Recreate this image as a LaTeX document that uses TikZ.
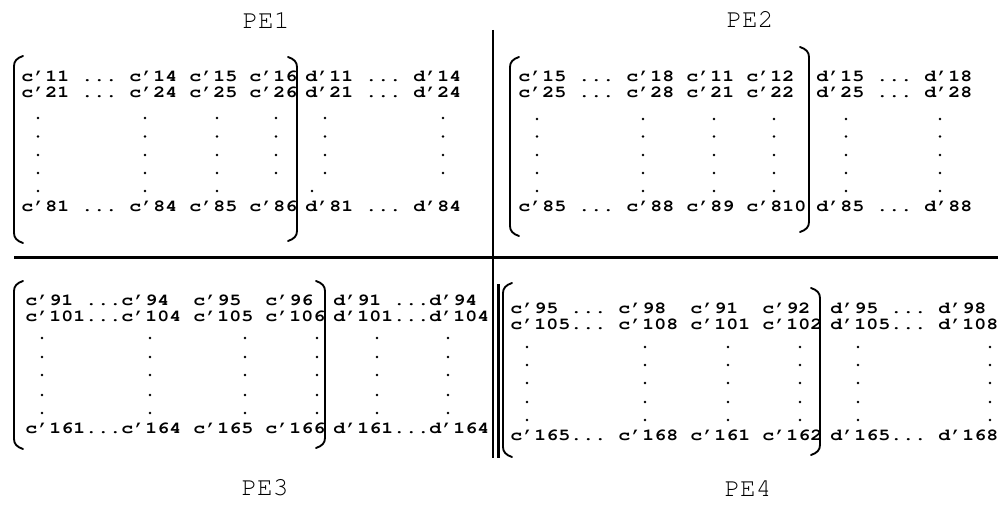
\documentclass[tikz,border=0pt]{standalone}
\usepackage[T1]{fontenc}
\usepackage{courier}
\usepackage{graphicx}
% one matrix row, set a little wide as in a typewritten table
\newcommand\mrow[1]{\scalebox{1.2}[1]{#1}}
\begin{document}
\begin{tikzpicture}[x=0.75pt,y=-0.75pt,
  entry/.style={anchor=base west, inner sep=0pt,
    font=\frenchspacing\fontsize{12.5}{13}\fontfamily{pcr}\fontseries{b}\selectfont},
  pelabel/.style={inner sep=0pt,
    font=\fontsize{19.5}{20}\fontfamily{pcr}\selectfont},
  rule/.style={line width=1.6pt},
  brack/.style={line width=1.4pt, line cap=round, line join=round}]
\useasboundingbox (0,0) rectangle (1000,510);

% left and right bracket helpers: #1 = x, #2 = top, #3 = bottom
\newcommand\lbrk[3]{\draw[brack] ({#1+9},#2) .. controls ({#1+3},{#2+2}) and (#1,{#2+5}) .. (#1,{#2+10})
  -- (#1,{#3-10}) .. controls (#1,{#3-5}) and ({#1+3},{#3-2}) .. ({#1+9},#3);}
\newcommand\rbrk[3]{\draw[brack] ({#1-9},#2) .. controls ({#1-3},{#2+2}) and (#1,{#2+5}) .. (#1,{#2+10})
  -- (#1,{#3-10}) .. controls (#1,{#3-5}) and ({#1-3},{#3-2}) .. ({#1-9},#3);}
\newcommand\vdot[2]{\fill (#1,#2) circle (1.05pt);}

% dividing rules
\draw[rule] (14,257.5) -- (998,257.5);
\draw[rule] (493,30) -- (493,458);
\draw[rule] (498.5,284) -- (498.5,458);

% processor labels
\node[pelabel] (pe1) at (266,20) {PE1};
\node[pelabel] (pe2) at (750,19) {PE2};
\node[pelabel] (pe3) at (265,487) {PE3};
\node[pelabel] (pe4) at (748,488) {PE4};

% ---- PE1 ----
\lbrk{14}{56}{243}
\rbrk{297}{57}{241}
\node[entry] (a1) at (21,81.5) {\mrow{c'11 ... c'14 c'15 c'16}};
\node[entry] (a2) at (21,97.5) {\mrow{c'21 ... c'24 c'25 c'26}};
\node[entry] (a3) at (21,211)  {\mrow{c'81 ... c'84 c'85 c'86}};
\node[entry] (ad1) at (305,81.5) {\mrow{d'11 ... d'14}};
\node[entry] (ad2) at (305,97.5) {\mrow{d'21 ... d'24}};
\node[entry] (ad3) at (305,211)  {\mrow{d'81 ... d'84}};
\foreach \y in {118,136.5,155,173}
  \foreach \x in {38,145,217,276,325,443} {\vdot{\x}{\y}}
\foreach \x in {38,145,217,312} {\vdot{\x}{191}}

% ---- PE2 ----
\lbrk{510}{57}{236}
\rbrk{809}{47}{232}
\node[entry] (b1) at (518,81.5) {\mrow{c'15 ... c'18 c'11 c'12}};
\node[entry] (b2) at (518,97.5) {\mrow{c'25 ... c'28 c'21 c'22}};
\node[entry] (b3) at (518,211)  {\mrow{c'85 ... c'88 c'89 c'810}};
\node[entry] (bd1) at (816,81.5) {\mrow{d'15 ... d'18}};
\node[entry] (bd2) at (816,97.5) {\mrow{d'25 ... d'28}};
\node[entry] (bd3) at (816,211)  {\mrow{d'85 ... d'88}};
\foreach \y in {119,136.5,155,173,191}
  \foreach \x in {537,643,714,774,846,940} {\vdot{\x}{\y}}

% ---- PE3 ----
\lbrk{14}{281}{449}
\rbrk{325}{281}{448}
\node[entry] (c1) at (25,305) {\mrow{c'91 ...c'94~~c'95~~c'96}};
\node[entry] (c2) at (25,321) {\mrow{c'101...c'104 c'105 c'106}};
\node[entry] (c3) at (25,433) {\mrow{c'161...c'164 c'165 c'166}};
\node[entry] (cd1) at (333,305) {\mrow{d'91 ...d'94}};
\node[entry] (cd2) at (333,321) {\mrow{d'101...d'104}};
\node[entry] (cd3) at (333,433) {\mrow{d'161...d'164}};
\foreach \y in {338,357,375,395,413}
  \foreach \x in {42,150,245,317,377,448} {\vdot{\x}{\y}}

% ---- PE4 ----
\lbrk{503}{283}{457}
\rbrk{820}{288}{455}
\node[entry] (e1) at (510,313) {\mrow{c'95 ... c'98~~c'91~~c'92}};
\node[entry] (e2) at (510,329) {\mrow{c'105... c'108 c'101 c'102}};
\node[entry] (e3) at (510,440) {\mrow{c'165... c'168 c'161 c'162}};
\node[entry] (ed1) at (830,313) {\mrow{d'95 ... d'98}};
\node[entry] (ed2) at (830,329) {\mrow{d'105... d'108}};
\node[entry] (ed3) at (830,440) {\mrow{d'165... d'168}};
\foreach \y in {347,365,383,402,420}
  \foreach \x in {527,645,728,800,858,990} {\vdot{\x}{\y}}
\end{tikzpicture}
\end{document}
